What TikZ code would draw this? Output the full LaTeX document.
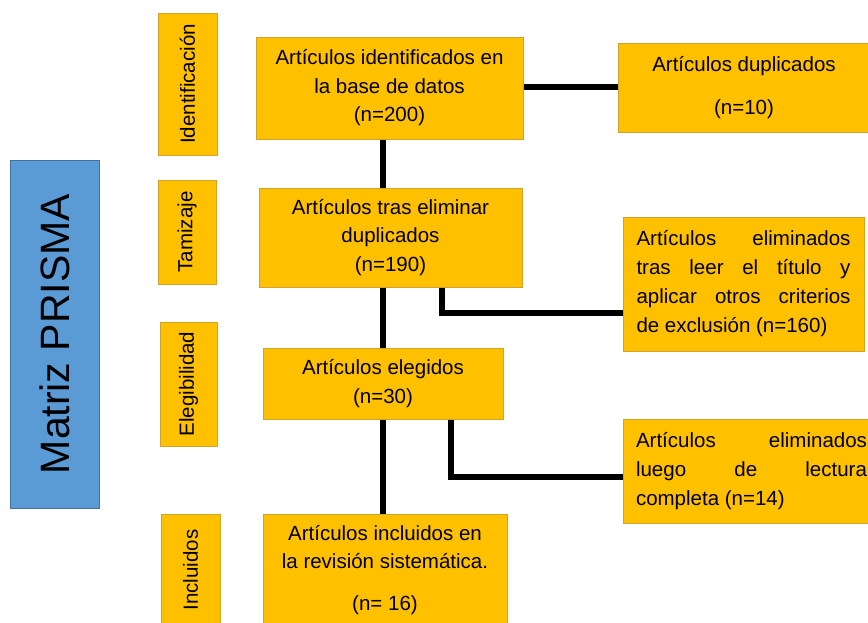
\documentclass[tikz,border=0pt]{standalone}
\usepackage{fontspec}
\setmainfont{Liberation Sans}
\definecolor{org}{RGB}{255,192,0}
\definecolor{orgb}{RGB}{208,164,42}
\definecolor{blu}{RGB}{91,155,213}
\definecolor{blub}{RGB}{65,113,156}
\tikzset{
  obox/.style={draw=orgb, fill=org, line width=1pt, inner sep=0pt,
    font=\fontsize{20.5}{28.5}\selectfont, align=center},
  jbox/.style={draw=orgb, fill=org, line width=1pt, inner sep=0pt,
    font=\fontsize{20.5}{29}\selectfont, align=left},
  side/.style={draw=orgb, fill=org, line width=1pt, inner sep=0pt, rotate=90,
    font=\fontsize{20.5}{24}\selectfont},
  conn/.style={line width=6pt, black},
}
\begin{document}
\begin{tikzpicture}[x=1pt,y=-1pt]
\clip (0,0) rectangle (868,622);
\fill[white] (0,0) rectangle (868,622);
% title
\node[draw=blub, fill=blu, line width=1pt, rotate=90, minimum width=348, minimum height=89,
  inner sep=0pt, font=\fontsize{41}{48}\selectfont] (title) at (54.5,334) {Matriz PRISMA};
% side labels
\node[side, minimum width=142, minimum height=59] (s1) at (187.5,84) {Identificación};
\node[side, minimum width=104, minimum height=58] (s2) at (187,232) {Tamizaje};
\node[side, minimum width=124, minimum height=57] (s3) at (188.5,384) {Elegibilidad};
\node[side, minimum width=112, minimum height=59] (s4) at (190.5,570) {Incluidos};
% main boxes
\node[obox, minimum width=267, minimum height=102] (b1) at (389.5,88)
  {Artículos identificados en\\la base de datos\\(n=200)};
\node[obox, minimum width=263, minimum height=99] (b2) at (390.5,237.5)
  {Artículos tras eliminar\\duplicados\\(n=190)};
\node[obox, minimum width=240, minimum height=71] (b3) at (383,383.5)
  {Artículos elegidos\\(n=30)};
\node[obox, minimum width=244, minimum height=112] (b4) at (385,570)
  {Artículos incluidos en\\la revisión sistemática.\\[13pt](n= 16)};
% right boxes
\node[obox, minimum width=252, minimum height=89] (dup) at (744,87.5)
  {Artículos duplicados\\[15pt](n=10)};
\node[jbox, minimum width=241, minimum height=134] (e1) at (743.5,284)
  {\makebox[214pt][s]{Artículos\hfill eliminados}\\
   \makebox[214pt][s]{tras\hfill leer\hfill el\hfill título\hfill y}\\
   \makebox[214pt][s]{aplicar\hfill otros\hfill criterios}\\
   de exclusión (n=160)};
\node[jbox, minimum width=257, minimum height=104] (e2) at (751.5,471)
  {\makebox[231pt][s]{Artículos\hfill eliminados}\\
   \makebox[231pt][s]{luego\hfill de\hfill lectura}\\
   completa (n=14)};
% connectors
\coordinate (vx) at (383,0);
\coordinate (c0) at (0,87);
\coordinate (c1) at (442,313);
\coordinate (c2) at (451,477);
\draw[conn] (b1.east |- c0) -- (dup.west |- c0);
\draw[conn] (b1.south -| vx) -- (b2.north -| vx);
\draw[conn] (b2.south -| vx) -- (b3.north -| vx);
\draw[conn] (b3.south -| vx) -- (b4.north -| vx);
\draw[conn] (b2.south -| c1) |- (e1.west |- c1);
\draw[conn] (b3.south -| c2) |- (e2.west |- c2);
\end{tikzpicture}
\end{document}
